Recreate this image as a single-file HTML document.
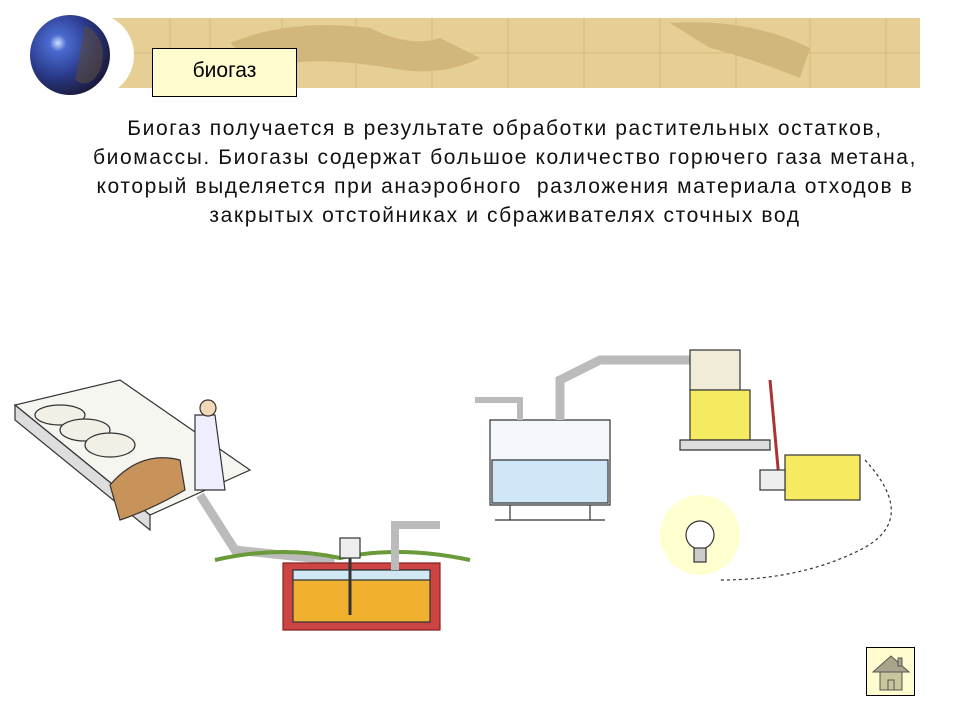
<!DOCTYPE html>
<html><head><meta charset="utf-8"><style>
body{margin:0;width:960px;height:720px;background:#fff;position:relative;overflow:hidden;font-family:"Liberation Sans",sans-serif}
.banner{position:absolute;left:110px;top:18px;width:810px;height:70px;background:#e6cf94}
.grid{position:absolute;left:110px;top:18px}
.label{position:absolute;left:152px;top:48px;width:143px;height:47px;border:1px solid #000;background:#fffdd0;font-size:21px;text-align:center;line-height:44px}
.txt{position:absolute;left:0px;top:114px;width:1010px;text-align:center;font-size:21px;letter-spacing:1.6px;line-height:29px;color:#111;white-space:nowrap}
.home{position:absolute;left:866px;top:647px;width:47px;height:47px;border:1px solid #000;background:#fffdd0}
</style></head><body>
<div class="banner"></div>
<svg class="grid" width="810" height="70">
<g stroke="#d4b97a" stroke-width="1">
<line x1="60" y1="0" x2="60" y2="70"/><line x1="100" y1="0" x2="100" y2="70"/><line x1="172" y1="0" x2="172" y2="70"/><line x1="246" y1="0" x2="246" y2="70"/><line x1="322" y1="0" x2="322" y2="70"/><line x1="398" y1="0" x2="398" y2="70"/><line x1="474" y1="0" x2="474" y2="70"/><line x1="550" y1="0" x2="550" y2="70"/><line x1="626" y1="0" x2="626" y2="70"/><line x1="700" y1="0" x2="700" y2="70"/><line x1="776" y1="0" x2="776" y2="70"/>
<line x1="0" y1="35" x2="810" y2="35"/></g>
<g fill="#d2b77a"><path d="M120 25 Q180 0 260 10 Q300 30 330 20 L370 40 Q330 60 280 50 Q220 40 180 45 Q140 45 120 25Z"/><path d="M560 5 Q640 0 700 30 L690 60 Q640 40 600 30Z"/></g>
</svg>
<svg style="position:absolute;left:0;top:0" width="140" height="110">
<circle cx="92" cy="55" r="42" fill="#fff"/>
<defs><radialGradient id="g" cx="0.35" cy="0.35" r="0.7"><stop offset="0" stop-color="#cfe0ff"/><stop offset="0.15" stop-color="#4a6ad0"/><stop offset="0.6" stop-color="#2a3a8a"/><stop offset="1" stop-color="#1a1a3a"/></radialGradient></defs>
<circle cx="70" cy="55" r="40" fill="url(#g)"/>
<path d="M85 25 Q110 40 100 70 Q90 90 75 80 Q80 55 85 25Z" fill="#5a4a3a" opacity="0.6"/>
</svg>
<div class="label">биогаз</div>
<div class="txt">Биогаз получается в результате обработки растительных остатков,<br>биомассы. Биогазы содержат большое количество горючего газа метана,<br>который выделяется при анаэробного&nbsp; разложения материала отходов в<br>закрытых отстойниках и сбраживателях сточных вод</div>
<svg style="position:absolute;left:0;top:320px" width="960" height="340" fill="none" stroke="#333" stroke-width="1.2">
<path d="M15 85 L150 195 L250 150 L120 60Z" fill="#f6f6f0"/>
<path d="M15 85 L150 195 L150 210 L15 100Z" fill="#ddd"/>
<g fill="#f2efe6"><ellipse cx="60" cy="95" rx="25" ry="10"/><ellipse cx="85" cy="110" rx="25" ry="11"/><ellipse cx="110" cy="125" rx="25" ry="12"/></g>
<path d="M110 165 Q140 130 180 140 L185 170 Q150 190 120 200Z" fill="#c8935a"/>
<path d="M195 95 L215 95 L225 170 L195 170Z" fill="#eef"/>
<circle cx="208" cy="88" r="8" fill="#f3d8b8"/>
<path d="M200 175 L235 230 L330 240 L330 258" stroke-width="9" stroke="#bbb"/>
<path d="M215 240 Q280 225 340 238 Q400 225 470 240" stroke="#6a9a3a" stroke-width="4"/>
<path d="M283 243 L440 243 L440 310 L283 310Z" fill="#c44" stroke="#822"/>
<path d="M293 250 L430 250 L430 302 L293 302Z" fill="#f0b030"/>
<path d="M293 250 L430 250 L430 260 L293 260Z" fill="#cfe8f4"/>
<rect x="340" y="218" width="20" height="20" fill="#eee"/>
<line x1="350" y1="238" x2="350" y2="295" stroke-width="3"/>
<path d="M395 250 L395 205 L440 205" stroke="#bbb" stroke-width="8"/>
<path d="M490 100 L610 100 L610 185 L490 185Z" fill="#f4f8fc"/>
<path d="M492 140 L608 140 L608 183 L492 183Z" fill="#cfe6f6"/>
<path d="M510 185 L510 200 M590 185 L590 200 M495 200 L605 200"/>
<path d="M560 100 L560 60 L600 40 L700 40" stroke="#bbb" stroke-width="9"/>
<path d="M520 100 L520 80 L475 80" stroke="#bbb" stroke-width="6"/>
<rect x="690" y="30" width="50" height="40" fill="#f0ecd8"/>
<rect x="690" y="70" width="60" height="50" fill="#f6ea60"/>
<path d="M680 120 L770 120 L770 130 L680 130Z" fill="#ddd"/>
<path d="M770 60 L780 170" stroke-width="3" stroke="#a33"/>
<rect x="785" y="135" width="75" height="45" fill="#f6ea60"/>
<rect x="760" y="150" width="25" height="20" fill="#eee"/>
<path d="M865 140 Q920 200 860 230 Q800 260 720 260" stroke-dasharray="3 3"/>
<circle cx="700" cy="215" r="40" fill="#ffffd0" stroke="none"/>
<circle cx="700" cy="215" r="14" fill="#fff"/>
<rect x="694" y="228" width="12" height="14" fill="#ccc"/>
</svg>
<div class="home"><svg width="47" height="47"><rect x="13" y="23" width="22" height="19" fill="#c9c59c" stroke="#555"/><path d="M6 24 L24 8 L42 24Z" fill="#a9a48a" stroke="#555"/><rect x="21" y="32" width="6" height="10" fill="#c9c59c" stroke="#555"/><rect x="31" y="10" width="4" height="8" fill="#a9a48a" stroke="#555"/></svg></div>
</body></html>
